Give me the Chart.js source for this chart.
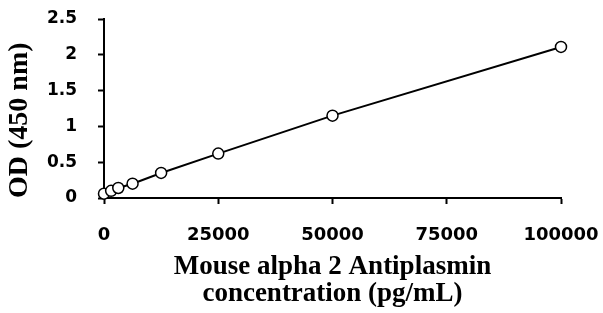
<!DOCTYPE html>
<html>
<head>
<meta charset="utf-8">
<script src="https://cdn.jsdelivr.net/npm/chart.js@4/dist/chart.umd.min.js"></script>
<style>
  html, body { margin: 0; padding: 0; background: #fff; }
  .canva { width: 603px; height: 313px; }
</style>
</head>
<body>
<div class="canva"><canvas id="chart"></canvas></div>
<script>
// standard curve readings
const concentrations = [0, 1562.5, 3125, 6250, 12500, 25000, 50000, 100000];
const odValues = [0.06, 0.10, 0.14, 0.20, 0.35, 0.62, 1.15, 2.11];
const xTicks = ['0', '25000', '50000', '75000', '100000'];
const yTicks = ['0', '0.5', '1', '1.5', '2', '2.5'];

const points = concentrations.map((c, i) => ({ x: c, y: odValues[i] }));

const axisGrid = {
  drawOnChartArea: false,
  drawTicks: true,
  tickLength: 6,
  tickColor: '#000',
  tickWidth: 2,
};

new Chart(document.getElementById('chart').getContext('2d'), {
  type: 'scatter',
  data: {
    datasets: [{
      data: points,
      showLine: true,
      clip: false,
      borderColor: '#000',
      borderWidth: 2,
      pointRadius: 5.5,
      pointBorderWidth: 1.5,
      pointBorderColor: '#000',
      pointBackgroundColor: '#fff',
    }]
  },
  options: {
    responsive: true,
    maintainAspectRatio: false,
    animation: false,
    layout: { padding: { left: 0, right: 42, top: 19, bottom: 0 } },
    plugins: { legend: { display: false }, tooltip: { enabled: false } },
    scales: {
      x: {
        type: 'linear',
        min: 0,
        max: 100000,
        afterFit: (scale) => {
          scale.height = 115;
          // let layout.padding decide the side margins
          scale.paddingLeft = 0;
          scale.paddingRight = 0;
        },
        afterBuildTicks: (scale) => {
          scale.ticks = xTicks.map(t => ({ value: Number(t) }));
        },
        ticks: {
          color: '#000',
          padding: 21,
          maxRotation: 0,
          font: { family: 'DejaVu Sans', weight: 'bold', size: 18 },
          callback: (v, i) => xTicks[i],
        },
        grid: axisGrid,
        border: { color: '#000', width: 2 },
        title: {
          display: true,
          text: ['Mouse alpha 2 Antiplasmin', 'concentration (pg/mL)'],
          color: '#000',
          font: { family: 'Liberation Serif', weight: 'bold', size: 27, lineHeight: 1.0 },
          padding: { top: 0, bottom: 5 },
        }
      },
      y: {
        type: 'linear',
        min: 0,
        max: 2.5,
        afterFit: (scale) => {
          scale.width = 104;
          scale.paddingTop = 0;
          scale.paddingBottom = 0;
        },
        afterBuildTicks: (scale) => {
          scale.ticks = yTicks.map(t => ({ value: Number(t) }));
        },
        ticks: {
          color: '#000',
          padding: 21,
          font: { family: 'DejaVu Sans', weight: 'bold', size: 17 },
          callback: (v, i) => yTicks[i],
        },
        grid: axisGrid,
        border: { color: '#000', width: 2 },
        title: {
          display: true,
          text: 'OD (450 nm)',
          align: 'start',
          color: '#000',
          font: { family: 'Liberation Serif', weight: 'bold', size: 28, lineHeight: 1.1 },
          padding: { top: 4, bottom: 0 },
        }
      }
    }
  }
});
</script>
</body>
</html>
